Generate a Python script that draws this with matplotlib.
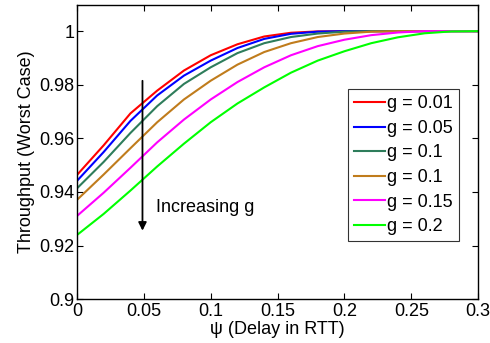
import matplotlib
matplotlib.use('Agg')
import matplotlib.pyplot as plt
import numpy as np

plt.rcParams['font.family'] = ['Liberation Sans', 'DejaVu Sans']

# delay (in RTT) and worst case throughput
psi = [0, 0.02, 0.04, 0.06, 0.08, 0.1, 0.12, 0.14, 0.16, 0.18, 0.2, 0.22, 0.24, 0.26, 0.28, 0.3]
labels = ['g = 0.01', 'g = 0.05', 'g = 0.1', 'g = 0.1', 'g = 0.15', 'g = 0.2']
tput_001 = [0.9463, 0.9574, 0.9693, 0.9778, 0.9853, 0.9910, 0.9951, 0.9980, 0.9994, 0.9999,
            1.0, 1.0, 1.0, 1.0, 1.0, 1.0]
tput_005 = [0.9441, 0.9549, 0.9665, 0.9760, 0.9834, 0.9890, 0.9937, 0.9971, 0.9990, 0.9998,
            1.0, 1.0, 1.0, 1.0, 1.0, 1.0]
tput_01a = [0.9413, 0.9512, 0.9620, 0.9720, 0.9803, 0.9865, 0.9918, 0.9955, 0.9978, 0.9991,
            0.9998, 1.0, 1.0, 1.0, 1.0, 1.0]
tput_01b = [0.9370, 0.9465, 0.9563, 0.9660, 0.9745, 0.9815, 0.9875, 0.9922, 0.9955, 0.9978,
            0.9991, 0.9998, 1.0, 1.0, 1.0, 1.0]
tput_015 = [0.9310, 0.9397, 0.9490, 0.9585, 0.9670, 0.9745, 0.9810, 0.9865, 0.9910, 0.9944,
            0.9968, 0.9985, 0.9995, 1.0, 1.0, 1.0]
tput_02 = [0.9239, 0.9318, 0.9405, 0.9495, 0.9580, 0.9660, 0.9730, 0.9790, 0.9845, 0.9890,
           0.9925, 0.9955, 0.9977, 0.9992, 0.9999, 1.0]

series = [tput_001, tput_005, tput_01a, tput_01b, tput_015, tput_02]
colors = ['#ff0000', '#0000ff', '#2e7d5b', '#c07c1c', '#ff00ff', '#00ff00']

fig = plt.figure(figsize=(4.9, 3.43), dpi=100)
ax = fig.add_axes([0.157, 0.128, 0.819, 0.857])

for y, c, lab in zip(series, colors, labels):
    ax.plot(psi, y, color=c, lw=1.5, label=lab)

ax.annotate('', xy=(0.049, 0.9245), xytext=(0.049, 0.9825),
            arrowprops=dict(arrowstyle='-|>', color='k', lw=1.3, mutation_scale=12))
ax.text(0.059, 0.934, 'Increasing g', fontsize=13, va='center')

ax.set_xlim(0, 0.3)
ax.set_ylim(0.9, 1.0097)
ax.set_xticks([0, 0.05, 0.1, 0.15, 0.2, 0.25, 0.3])
ax.set_xticklabels(['0', '0.05', '0.1', '0.15', '0.2', '0.25', '0.3'])
ax.set_yticks([0.9, 0.92, 0.94, 0.96, 0.98, 1.0])
ax.set_yticklabels(['0.9', '0.92', '0.94', '0.96', '0.98', '1'])
ax.tick_params(direction='in', top=True, right=True, labelsize=13, length=4)
ax.tick_params(axis='x', pad=3)
ax.tick_params(axis='y', pad=2)
for s in ax.spines.values():
    s.set_linewidth(1.0)

ax.set_xlabel('ψ (Delay in RTT)', fontsize=13, labelpad=0.5)
ax.set_ylabel('Throughput (Worst Case)', fontsize=13, labelpad=3)

leg = ax.legend(loc='upper left', bbox_to_anchor=(0.675, 0.715), fontsize=13,
                frameon=True, fancybox=False, edgecolor='k', handlelength=1.7,
                handletextpad=0.1, labelspacing=0.42, borderpad=0.35,
                borderaxespad=0)
leg.get_frame().set_linewidth(0.8)

fig.savefig('out.png', dpi=100)
